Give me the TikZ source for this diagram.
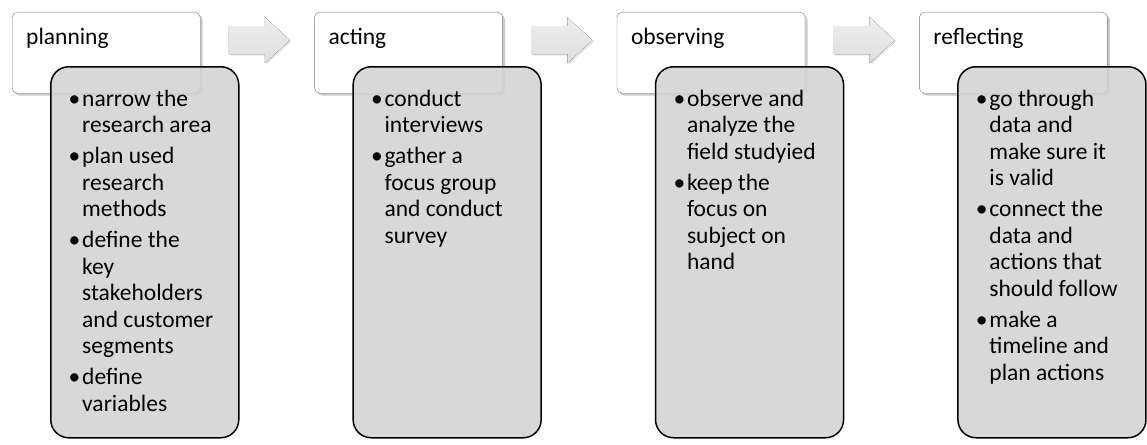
\documentclass[tikz,border=0pt]{standalone}
\usepackage{fontspec}
\setmainfont{Carlito}
\usetikzlibrary{positioning,calc,shadows}

\definecolor{boxgray}{RGB}{211,211,211}
\definecolor{headline}{RGB}{120,120,120}
\definecolor{arrowtop}{RGB}{238,238,238}
\definecolor{arrowbot}{RGB}{222,222,222}

\newcommand{\stagefont}{\fontsize{23.5}{26.5}\selectfont}
\newcommand{\dotmark}{\hspace*{-2.5pt}\textbullet}
\newcommand{\steplist}[1]{\begin{tabular}{@{}p{11pt}@{}l@{}}#1\end{tabular}}

\tikzset{
  headbox/.style={draw=headline, fill=white, rounded corners=5pt,
    minimum width=188pt, minimum height=81pt, anchor=north west,
    drop shadow={shadow xshift=2.5pt, shadow yshift=-2.5pt, opacity=0.4}},
  headtext/.style={anchor=north west, inner sep=0pt, label distance=0pt,
    xshift=14pt, yshift=-16pt, font=\stagefont},
  listbox/.style={draw=black, line width=1.5pt, fill=boxgray, fill opacity=0.88,
    rounded corners=18pt, minimum width=188pt, minimum height=371pt,
    anchor=north west},
  listtext/.style={anchor=north west, inner sep=0pt, label distance=0pt,
    xshift=21pt, yshift=-21.5pt, font=\stagefont},
  flowarrow/.style={top color=arrowtop, bottom color=arrowbot,
    drop shadow={shadow xshift=1.5pt, shadow yshift=-1.5pt, opacity=0.2}}
}

\begin{document}
\begin{tikzpicture}[x=1pt,y=-1pt]
\useasboundingbox (0,0) rectangle (1147,444);

% stage headers
\node[headbox, label={[headtext]north west:planning}] (plan) at (12,12) {};
\node[headbox, label={[headtext]north west:acting}, right=114pt of plan] (act) {};
\node[headbox, label={[headtext]north west:observing}, right=114pt of act] (obs) {};
\node[headbox, label={[headtext]north west:reflecting}, right=114pt of obs] (refl) {};

% task lists
\node[listbox, label={[listtext]north west:\steplist{
  \dotmark & narrow the\\ & research area\\[4.5pt]
  \dotmark & plan used\\ & research\\ & methods\\[4.5pt]
  \dotmark & define the\\ & key\\ & stakeholders\\ & and customer\\ & segments\\[4.5pt]
  \dotmark & define\\ & variables}}]
  (planlist) at ($(plan.north west)+(38,54)$) {};
\node[listbox, label={[listtext]north west:\steplist{
  \dotmark & conduct\\ & interviews\\[4.5pt]
  \dotmark & gather a\\ & focus group\\ & and conduct\\ & survey}}]
  (actlist) at ($(act.north west)+(38,54)$) {};
\node[listbox, label={[listtext]north west:\steplist{
  \dotmark & observe and\\ & analyze the\\ & field studyied\\[4.5pt]
  \dotmark & keep the\\ & focus on\\ & subject on\\ & hand}}]
  (obslist) at ($(obs.north west)+(38,54)$) {};
\node[listbox, label={[listtext]north west:\steplist{
  \dotmark & go through\\ & data and\\ & make sure it\\ & is valid\\[4.5pt]
  \dotmark & connect the\\ & data and\\ & actions that\\ & should follow\\[4.5pt]
  \dotmark & make a\\ & timeline and\\ & plan actions}}]
  (refllist) at ($(refl.north west)+(38,54)$) {};

% arrows between stages
\coordinate (a1) at ($(plan.east)!0.5!(act.west)+(2,-12.5)$);
\coordinate (a2) at ($(act.east)!0.5!(obs.west)+(2,-12.5)$);
\coordinate (a3) at ($(obs.east)!0.5!(refl.west)+(2,-12.5)$);
\foreach \a in {a1,a2,a3}
  \fill[flowarrow] ($(\a)+(-30.5,-14)$) -- ++(36,0) -- ++(0,-9)
    -- ($(\a)+(30.5,0)$) -- ($(\a)+(5.5,23)$) -- ++(0,-9) -- ++(-36,0) -- cycle;

\end{tikzpicture}
\end{document}
